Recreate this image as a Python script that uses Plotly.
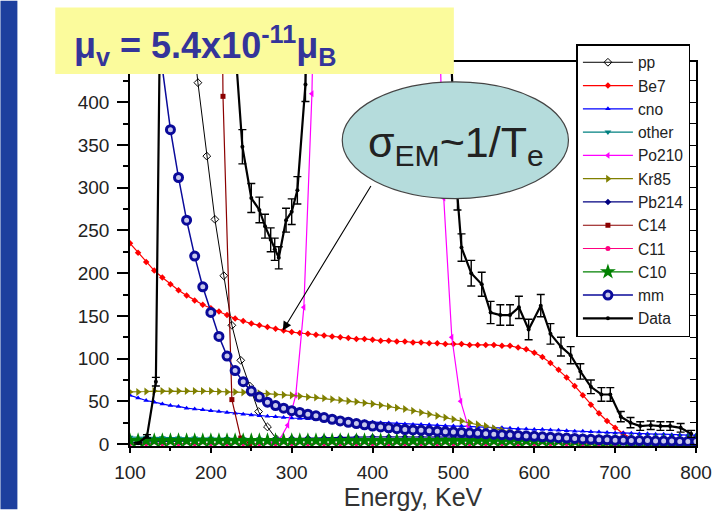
import plotly.graph_objects as go

# ---- spectra (counts per bin) ----------------------------------------
e10 = list(range(100, 801, 10))
e20 = list(range(100, 801, 20))

pp_e = [150, 162, 173, 184, 195, 205, 216, 226, 237, 248, 259, 270, 281]
pp_v = [800, 640, 520, 423, 337, 263, 197, 139, 98, 68, 38, 20, 6]

be7_e = list(range(100, 751, 10))
be7_v = [235, 224, 213, 203, 195, 187, 180, 174, 168, 163, 159, 155, 151, 147,
         144, 141, 139, 137, 135, 133, 131, 130, 129, 128, 127, 126, 125, 124,
         123, 123, 122, 121, 121, 120, 120, 119, 119, 118, 118, 117, 117, 117,
         116, 116, 116, 116, 115, 115, 113, 111, 107, 102, 95, 87, 78, 68, 57,
         46, 36, 27, 19, 12, 7, 4, 2, 1]

cno_v = [57, 54, 51, 49, 47, 45, 44, 42, 41, 40, 39, 38, 37, 36, 35, 34, 33,
         32.5, 32, 31, 30.5, 30, 29.5, 29, 28.5, 28, 27.5, 27, 26.5, 26, 25.5,
         25, 24.5, 24, 23.5, 23, 23, 22.5, 22, 21.5, 21, 21, 20.5, 20, 19.5, 19,
         19, 18.5, 18, 17.5, 17, 17, 16.5, 16, 15.5, 15, 15, 14.5, 14, 13.5, 13,
         13, 12.5, 12, 12, 11.5, 11.5, 11, 11, 10.5, 10.5]

other_v = [8, 7.8, 7.5, 7.2, 7, 6.8, 6.5, 6.3, 6, 5.8, 5.6, 5.4, 5.2, 5, 4.8,
           4.6, 4.4, 4.2, 4, 3.8, 3.6, 3.4, 3.2, 3, 2.8, 2.6, 2.4, 2.2, 2, 1.8,
           1.6, 1.4, 1.2, 1, 0.8, 0.6]

po210_e = [275, 285, 295, 305, 315, 325, 335, 345, 360, 380, 400, 420, 440,
           460, 475, 488, 498, 509, 518, 528, 540]
po210_v = [0.5, 5, 22, 57, 160, 410, 900, 1800, 3500, 5500, 6000, 5200, 3500,
           1800, 800, 288, 125, 50, 21, 8, 2]

kr85_e = list(range(100, 701, 10))
kr85_v = [61, 61, 61.5, 62, 62, 62, 62, 62, 62, 62, 62, 61.5, 61, 61, 60.5, 60,
          59.5, 59, 58, 57.5, 57, 56, 55, 54.5, 53.5, 52.5, 51.5, 50.5, 49.5,
          48, 47, 45.5, 44, 42.5, 41, 39, 37, 35, 33, 31, 29, 27, 25, 23, 21,
          18.5, 16, 14, 12, 10, 8, 6.5, 5, 4, 3, 2, 1.5, 1, 0.5, 0.3, 0.1]

pb214_v = [2, 2.5, 3, 3.5, 4, 4.5, 5, 5.5, 6, 6.5, 7, 7.3, 7.6, 8, 8.2, 8.4,
           8.5, 8.6, 8.6, 8.5, 8.4, 8.2, 8, 7.8, 7.5, 7.2, 6.9, 6.6, 6.3, 6,
           5.7, 5.4, 5.1, 4.8, 4.5, 4.2]

c14_e = [195, 205, 215, 226, 237, 248]
c14_v = [4000, 1500, 407, 52, 7, 0.3]

c11_v = [0.5, 0.5, 0.5, 0.5, 0.5, 0.5, 0.5, 0.5, 0.5, 0.5, 0.5, 0.5, 0.5, 0.5,
         0.5, 0.5, 0.5, 0.5, 0.5, 0.5, 0.5, 0.5, 0.5, 0.5, 0.5, 0.5, 0.5, 0.5,
         0.5, 0.5, 0.5, 0.5, 0.5, 0.5, 0.5, 0.5]

c10_v = [4, 4, 4, 4, 4, 4, 4, 4, 4, 4, 4, 4, 4, 4, 4, 4, 4, 4, 4, 4, 4, 4, 4,
         4, 4, 4, 4, 4, 4, 4, 4, 4, 4, 4, 4, 4, 4, 4, 4, 4, 4, 4, 4, 4, 4, 4,
         4, 4, 4, 4, 4, 4, 4, 4, 4, 3.5, 3.5, 3.5, 3.5, 3.5, 3.5, 3.5, 3.5,
         3.5, 3.5, 3.5, 3.5, 3.5, 3.5, 3.5, 3.5]

mm_e = list(range(130, 801, 10))
mm_v = [560, 440, 368, 312, 262, 220, 184, 154, 126, 103, 86, 73, 62, 55, 49,
        45, 42, 39, 37, 35, 33, 31, 29, 27, 25.5, 24, 22.5, 21, 20, 19, 18, 17,
        16.5, 16, 15.5, 15, 14.5, 14, 13.5, 13, 12.5, 12, 11.5, 11, 10.5, 10,
        9.5, 9, 8.5, 8, 7.5, 7, 6.5, 6, 5.5, 5, 5, 4.5, 4.5, 4, 4, 4, 3.5, 3.5,
        3.5, 3, 3, 3]

data_e = [110, 121, 132, 142, 160, 200, 229, 239, 250, 260, 267, 274, 279, 284,
          293, 300, 307, 317, 327, 400, 490, 505, 510, 522, 535, 546, 558, 570,
          581, 593, 608, 620, 633, 645, 657, 670, 683, 694, 707, 719, 731, 744,
          756, 768, 781, 794]
data_v = [1, 9, 73, 900, 2500, 3000, 480, 348, 288, 274, 255, 239, 228, 218,
          262, 272, 297, 421, 900, 6000, 600, 290, 230, 200, 187, 154, 151, 151,
          160, 134, 162, 129, 114, 104, 85, 67, 58, 58, 32, 25, 21, 22, 21, 21,
          19, 12]
data_err = [1, 2, 5, 0, 0, 0, 0, 20, 17, 15, 14, 14, 13, 13, 14, 15, 16, 20, 0,
            0, 0, 16, 16, 15, 14, 13, 12, 12, 13, 12, 13, 12, 11, 10, 9, 8, 8,
            8, 6, 6, 5, 5, 5, 5, 5, 4]

x_ticks = [100, 200, 300, 400, 500, 600, 700, 800]
y_ticks = [0, 50, 100, 150, 200, 250, 300, 350, 400]

# ---- page geometry (pixels) ------------------------------------------
W, H = 724, 514
L, R, T, B = 130, 698, 62, 450


def px(x):
    return (x - L) / (R - L)


def py(y):
    return (B - y) / (B - T)


FONT = "Liberation Sans, Arial, sans-serif"

fig = go.Figure()


def add(name, x, y, color, symbol, size, width=1.2, mline=0, mcolor=None,
        err=None):
    fig.add_trace(go.Scatter(
        x=x, y=y, name=name, mode="lines+markers",
        line=dict(color=color, width=width),
        marker=dict(symbol=symbol, size=size, color=mcolor or color,
                    line=dict(width=mline, color=color)),
        error_y=err, cliponaxis=True,
    ))


add("pp", pp_e, pp_v, "#000000", "diamond-open", 6, width=1, mline=1)
add("Be7", be7_e, be7_v, "#ff0000", "diamond", 5)
add("cno", e10, cno_v, "#0000ff", "triangle-up", 5)
add("other", e20, other_v, "#008080", "triangle-down", 6)
add("Po210", po210_e, po210_v, "#ff00ff", "triangle-left", 6)
add("Kr85", kr85_e, kr85_v, "#808000", "triangle-right", 7)
add("Pb214", e20, pb214_v, "#000080", "diamond", 5)
add("C14", c14_e, c14_v, "#8b0000", "square", 5)
add("C11", e20, c11_v, "#ff0080", "circle", 5)
add("C10", e10, c10_v, "#008000", "star", 12)
add("mm", mm_e, mm_v, "#0a0a9a", "circle", 8, width=1.5, mline=3,
    mcolor="#c8c8ec")
add("Data", data_e, data_v, "#000000", "circle", 4, width=2.2,
    err=dict(type="data", array=data_err, color="#000000", thickness=1.4,
             width=4))

# right-hand frame with inward ticks
fig.add_trace(go.Scatter(x=[], y=[], yaxis="y2", showlegend=False))

yr = [-2.3, 447.2]

fig.update_layout(
    width=W, height=H,
    margin=dict(l=L, r=W - R, t=T, b=H - B),
    paper_bgcolor="white", plot_bgcolor="white",
    font=dict(family=FONT, color="#222222"),
    showlegend=True,
    legend=dict(
        x=px(578), y=py(340), xanchor="left", yanchor="bottom",
        bgcolor="white", bordercolor="#000000", borderwidth=1.5,
        font=dict(size=15.6, family=FONT, color="#222222"),
        itemwidth=50, tracegroupgap=0,
    ),
    xaxis=dict(
        range=[100, 800], tickvals=x_ticks, ticks="outside", ticklen=5,
        tickwidth=1.5, tickcolor="#000", showline=True, linecolor="#000",
        linewidth=1.5, mirror=True, showgrid=False, zeroline=False,
        tickfont=dict(size=19, color="#222"), ticklabelstandoff=3,
        minor=dict(dtick=50, ticks="outside", ticklen=3, tickcolor="#000",
                   showgrid=False),
        title=dict(text="Energy, KeV", font=dict(size=25, color="#333"),
                   standoff=2),
    ),
    yaxis=dict(
        range=yr, tickvals=y_ticks, ticks="outside", ticklen=11,
        tickwidth=1.5, tickcolor="#000", showline=True, linecolor="#000",
        linewidth=1.5, showgrid=False, zeroline=False,
        tickfont=dict(size=19, color="#222"), ticklabelstandoff=4,
        minor=dict(dtick=25, ticks="outside", ticklen=5, tickcolor="#000",
                   showgrid=False),
    ),
    yaxis2=dict(
        range=yr, overlaying="y", side="right", anchor="x", dtick=25,
        ticks="inside", ticklen=6, tickcolor="#000", showline=True,
        linecolor="#000", linewidth=1.5, showticklabels=False,
        showgrid=False, zeroline=False,
    ),
)

# slide decorations: blue side band, yellow title box, callout ellipse
fig.add_shape(type="rect", xref="paper", yref="paper", x0=px(0), x1=px(17),
              y0=py(H), y1=py(0), fillcolor="#1d3f9e", line=dict(width=0),
              layer="above")
fig.add_shape(type="rect", xref="paper", yref="paper", x0=px(55), x1=px(455),
              y0=py(74), y1=py(7), fillcolor="#fbfb9c", line=dict(width=0),
              layer="above")
fig.add_shape(type="circle", xref="paper", yref="paper", x0=px(343),
              x1=px(570), y0=py(200), y1=py(82), fillcolor="#b5dcdc",
              line=dict(color="#444444", width=1.2), layer="above")

fig.add_annotation(
    xref="paper", yref="paper", x=px(72), y=py(45), xanchor="left",
    yanchor="middle", showarrow=False,
    text="<b>μ<sub>v</sub> = 5.4x10<sup>-11</sup>μ<sub>B</sub></b>",
    font=dict(size=36, color="#34349a", family=FONT),
)
fig.add_annotation(
    xref="paper", yref="paper", x=px(457), y=py(146), xanchor="center",
    yanchor="middle", showarrow=False,
    text="σ<sub>EM</sub>~1/T<sub>e</sub>",
    font=dict(size=43, color="#222222", family=FONT),
)
fig.add_annotation(
    x=289, y=133, xref="x", yref="y", ax=89, ay=-146, text="",
    showarrow=True, arrowhead=2, arrowsize=1.6, arrowwidth=1.1,
    arrowcolor="#000000",
)

fig.write_html("out.html")
